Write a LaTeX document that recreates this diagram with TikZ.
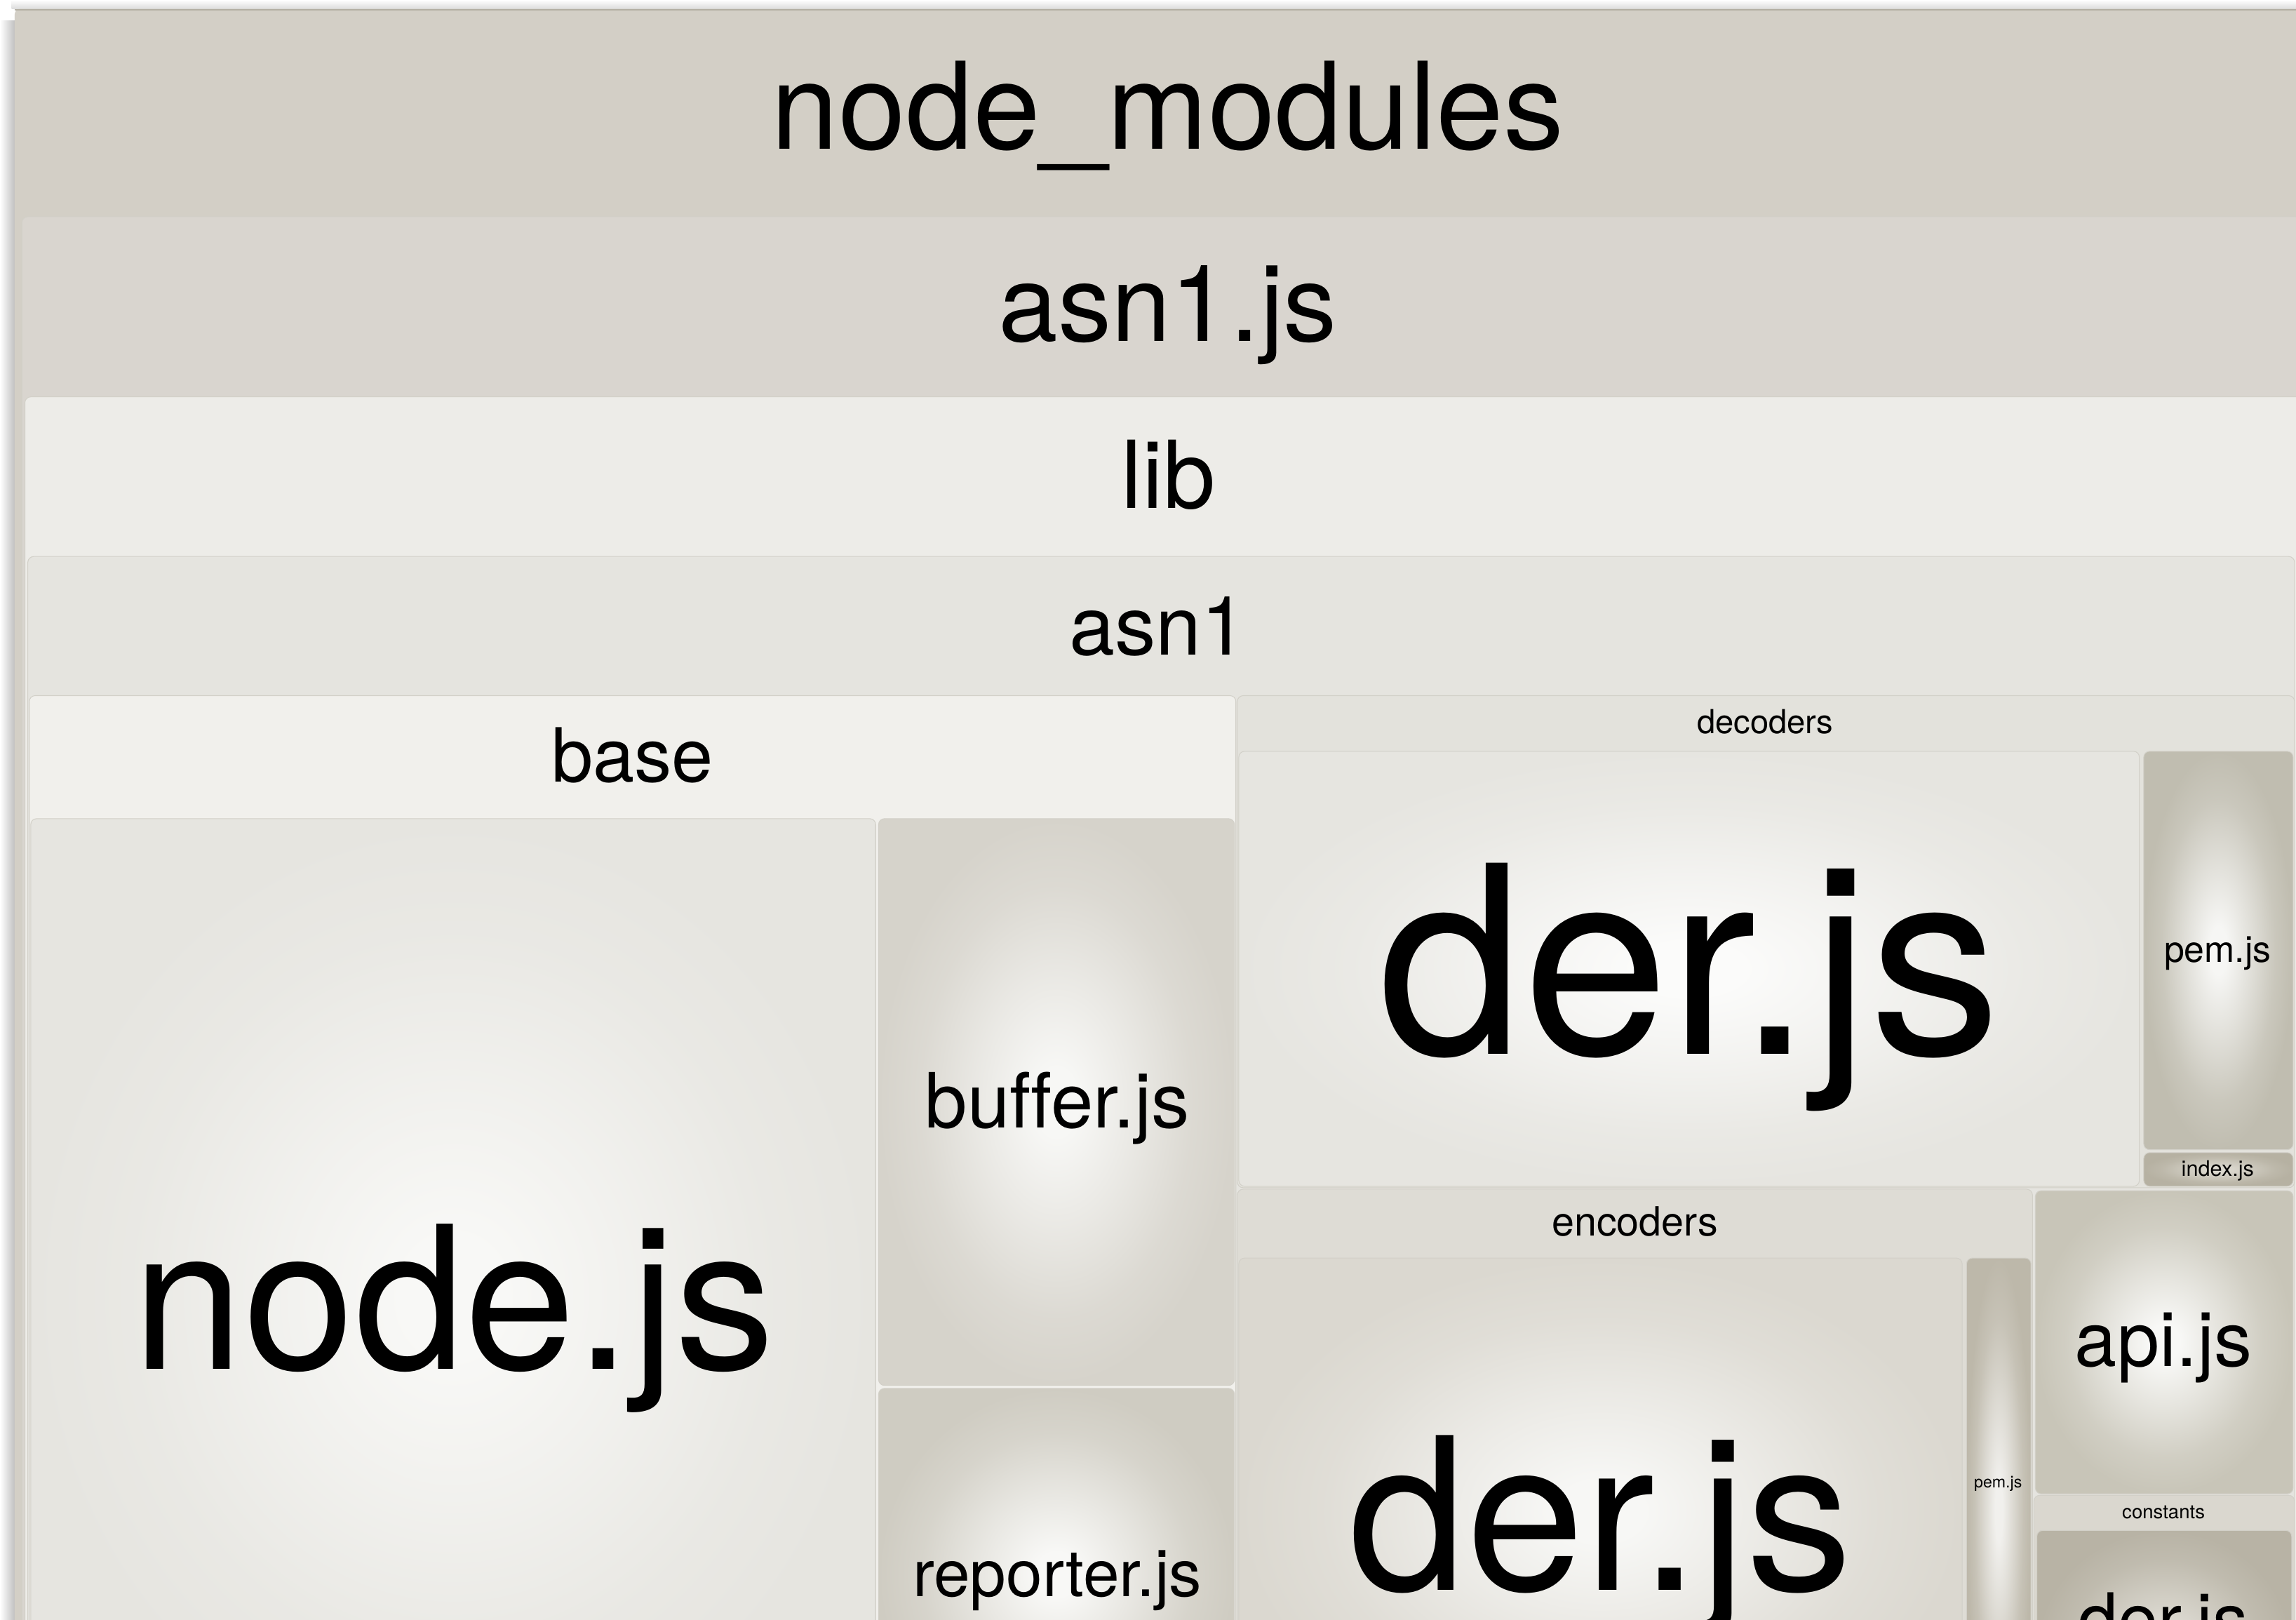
\documentclass[tikz,border=0pt]{standalone}
\usepackage{fontspec}
\setmainfont{TeX Gyre Heros}[Ligatures=NoCommon]
\definecolor{nmC}{HTML}{D3CFC6}
\definecolor{asnjsC}{HTML}{D9D5CF}
\definecolor{libC}{HTML}{EDECE8}
\definecolor{asnC}{HTML}{E5E4DF}
\definecolor{baseC}{HTML}{F1F0EC}
\definecolor{decC}{HTML}{E3E2DC}
\definecolor{encC}{HTML}{DEDCD5}
\definecolor{conC}{HTML}{DAD7CF}
\definecolor{edgeC}{HTML}{D2D0C8}
\definecolor{topC}{HTML}{B3AFA3}
\definecolor{shadowC}{HTML}{BDBDBD}
\colorlet{rin}{white}
\colorlet{rout}{gray}
\pgfdeclareradialshading[rin,rout]{leafrad}{\pgfpointorigin}{%
  color(0bp)=(rin); color(3bp)=(rin); color(11bp)=(rin!60!rout);
  color(19bp)=(rin!18!rout); color(25bp)=(rout); color(50bp)=(rout)}
\newcommand\myfs[1]{\fontsize{#1}{#1}\selectfont}
\tikzset{
  leaf/.style 2 args={/utils/exec={\definecolor{rin}{HTML}{#1}\definecolor{rout}{HTML}{#2}},
    shading=leafrad, draw=edgeC, line width=0.5pt, rounded corners=4pt},
  dirbox/.style={fill=#1, draw=edgeC, line width=0.5pt, rounded corners=4pt},
  lbl/.style={anchor=base, inner sep=0pt, text=black},
}
\begin{document}
\begin{tikzpicture}[x=1pt,y=-1pt]
\useasboundingbox (0,0) rectangle (1568,1106);
\clip (0,0) rectangle (1568,1106);
\fill[white] (0,0) rectangle (1568,1106);
% shadows
\shade[left color=white, right color=shadowC] (0,14) rectangle (10.5,1106);
\shade[top color=white, bottom color=black!14] (8,0) rectangle (1568,6);
% directories
\filldraw[dirbox=nmC, draw=none] (10,6) rectangle (1590,1300);
\draw[topC, line width=1pt] (10,6.5) -- (1568,6.5);
\filldraw[dirbox=asnjsC] (15,148) rectangle (1590,1300);
\filldraw[dirbox=libC] (17,271) rectangle (1590,1300);
\filldraw[dirbox=asnC] (19,380) rectangle (1567,1300);
\filldraw[dirbox=baseC] (20,475) rectangle (844,1300);
\filldraw[dirbox=decC] (845,475) rectangle (1567,811);
\filldraw[dirbox=encC] (845,812) rectangle (1388,1300);
\filldraw[dirbox=conC] (1389,1021) rectangle (1567,1300);
% leaves
\shadedraw[leaf={F8F8F6}{E6E5E0}] (21,559) rectangle (598,1212);
\shadedraw[leaf={F7F7F5}{D6D3CB}] (600,559) rectangle (843,946);
\shadedraw[leaf={F8F8F6}{CFCCC2}] (600,948) rectangle (843,1202);
\shadedraw[leaf={FBFBFA}{E6E5E0}] (846,513) rectangle (1461,810);
\shadedraw[leaf={F6F6F4}{C0BDB0}] (1464,513) rectangle (1566,785);
\shadedraw[leaf={DCD9D0}{B6B1A2}] (1464,787) rectangle (1566,810);
\shadedraw[leaf={F7F7F5}{DBD8D0}] (846,859) rectangle (1340,1205);
\shadedraw[leaf={F1F0ED}{BDB8AA}] (1343,859) rectangle (1387,1205);
\shadedraw[leaf={F8F8F6}{C8C5B8}] (1390,813) rectangle (1566,1020);
\shadedraw[leaf={E3E1DA}{B8B3A5}] (1391,1045) rectangle (1565,1210);
% labels
\node[lbl, font=\myfs{82.5}] (tnm) at (797.5,102) {node\_modules};
\node[lbl, font=\myfs{73}] (tasnjs) at (797.5,233) {asn1.js};
\node[lbl, font=\myfs{64}] (tlib) at (798,347) {lib};
\node[lbl, font=\myfs{56}] (tasn) at (791,447) {asn1};
\node[lbl, font=\myfs{51}] (tbase) at (432,534) {base};
\node[lbl, font=\myfs{136}] (tnode) at (310,935) {node.js};
\node[lbl, font=\myfs{52}] (tbuf) at (722,770) {buf\kern0pt fer.js};
\node[lbl, font=\myfs{44.5}] (trep) at (722,1090) {reporter.js};
\node[lbl, font=\myfs{22.6}] (tdec) at (1205.5,501) {decoders};
\node[lbl, font=\myfs{179}] (tderdec) at (1153.5,720) {der.js};
\node[lbl, font=\myfs{24.8}] (tpemdec) at (1514.5,657) {pem.js};
\node[lbl, font=\myfs{14.7}] (tindex) at (1514.5,803) {index.js};
\node[lbl, font=\myfs{27.5}] (tenc) at (1116.5,844) {encoders};
\node[lbl, font=\myfs{145}] (tderenc) at (1093,1086) {der.js};
\node[lbl, font=\myfs{11.1}] (tpemenc) at (1364.5,1016) {pem.js};
\node[lbl, font=\myfs{51.8}] (tapi) at (1477.5,933) {api.js};
\node[lbl, font=\myfs{13.2}] (tcon) at (1477.5,1037) {constants};
\node[lbl, font=\myfs{49}] (tdercon) at (1477.5,1123) {der.js};
\end{tikzpicture}
\end{document}
